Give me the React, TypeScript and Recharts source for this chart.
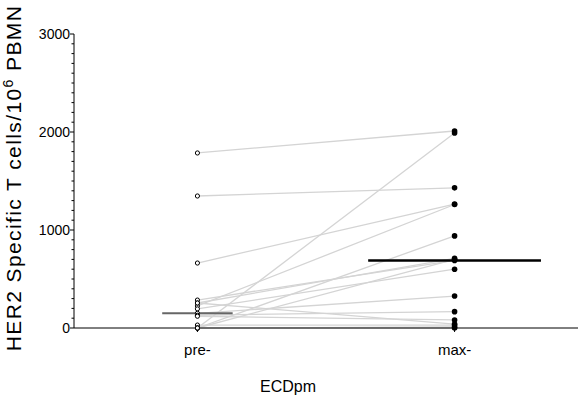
import React from 'react';
import {
  ComposedChart, Line, Scatter, XAxis, YAxis, ReferenceLine,
} from 'recharts';

// HER2 specific T cells per 10^6 PBMN, paired per patient
const preValues = [1786, 1347, 663, 0, 225, 0, 285, 255, 195, 150, 130, 120, 30, 0, 0, 0, 255];
const maxValues = [2010, 1430, 1265, 1990, 1260, 940, 690, 710, 600, 326, 167, 82, 30, 0, 10, 700, 40];
const groupLabels = ['pre-', 'max-'];
const groupPos = [0.5, 1.5];
const yTicks = Array.from({ length: 31 }, (_, i) => i * 100);

const median = (arr: number[]) => {
  const s = [...arr].sort((a, b) => a - b);
  const m = Math.floor(s.length / 2);
  return s.length % 2 ? s[m] : (s[m - 1] + s[m]) / 2;
};

const preData = preValues.map((v) => ({ x: groupPos[0], v }));
const maxData = maxValues.map((v) => ({ x: groupPos[1], v }));
const pairs = preValues.map((v, i) => [
  { x: groupPos[0], v },
  { x: groupPos[1], v: maxValues[i] },
]);

const FONT = '"Liberation Sans", Arial, sans-serif';

const YTick = (props: any) => {
  const { x, y, payload } = props;
  const major = payload.value % 1000 === 0;
  return (
    <g>
      <line x1={x - (major ? 4 : 2.5)} x2={x} y1={y} y2={y} stroke="#000" strokeWidth={1} />
      {major && (
        <text x={x - 4} y={y + 5} textAnchor="end" fontSize={14} fontFamily={FONT} fill="#000">
          {payload.value}
        </text>
      )}
    </g>
  );
};

export default function App() {
  const medPre = median(preValues);
  const medMax = median(maxValues);
  return (
    <div style={{ position: 'absolute', left: 0, top: 0 }}>
      <ComposedChart width={580} height={398} margin={{ top: 34, right: 2, bottom: 0, left: 0 }}>
        <XAxis
          type="number"
          dataKey="x"
          domain={[0.02, 1.98]}
          ticks={groupPos}
          tickFormatter={(v) => groupLabels[groupPos.indexOf(v)]}
          allowDuplicatedCategory={false}
          height={70}
          stroke="#000"
          tickSize={4}
          tickMargin={12}
          tick={{ fill: '#000', fontSize: 15, fontFamily: FONT }}
        />
        <YAxis
          type="number"
          domain={[0, 3000]}
          ticks={yTicks}
          interval={0}
          width={74}
          stroke="#000"
          tickLine={false}
          tickSize={0}
          tickMargin={0}
          tick={<YTick />}
        />
        {pairs.map((d, i) => (
          <Line
            key={i}
            data={d}
            dataKey="v"
            stroke="#d4d4d4"
            strokeWidth={1.3}
            dot={false}
            activeDot={false}
            isAnimationActive={false}
          />
        ))}
        <Scatter
          data={preData}
          dataKey="v"
          isAnimationActive={false}
          shape={(p: any) => <circle cx={p.cx} cy={p.cy} r={2.1} fill="#fff" stroke="#000" strokeWidth={1} />}
        />
        <Scatter
          data={maxData}
          dataKey="v"
          isAnimationActive={false}
          shape={(p: any) => <circle cx={p.cx} cy={p.cy} r={2.8} fill="#000" />}
        />
        <ReferenceLine
          segment={[{ x: groupPos[0] - 0.137, y: medPre }, { x: groupPos[0] + 0.137, y: medPre }]}
          stroke="#666"
          strokeWidth={2}
        />
        <ReferenceLine
          segment={[{ x: groupPos[1] - 0.336, y: medMax }, { x: groupPos[1] + 0.336, y: medMax }]}
          stroke="#000"
          strokeWidth={2.5}
        />
        <text x={288} y={392} textAnchor="middle" fontSize={16} fontFamily={FONT} fill="#000">
          ECDpm
        </text>
        <text
          transform="translate(21,178) rotate(-90)"
          textAnchor="middle"
          fontSize={21}
          letterSpacing={1.4}
          fontFamily={FONT}
          fill="#000"
        >
          HER2 Specific T cells/10
          <tspan dy={-8} fontSize={14}>6</tspan>
          <tspan dy={8}> PBMN</tspan>
        </text>
      </ComposedChart>
    </div>
  );
}
